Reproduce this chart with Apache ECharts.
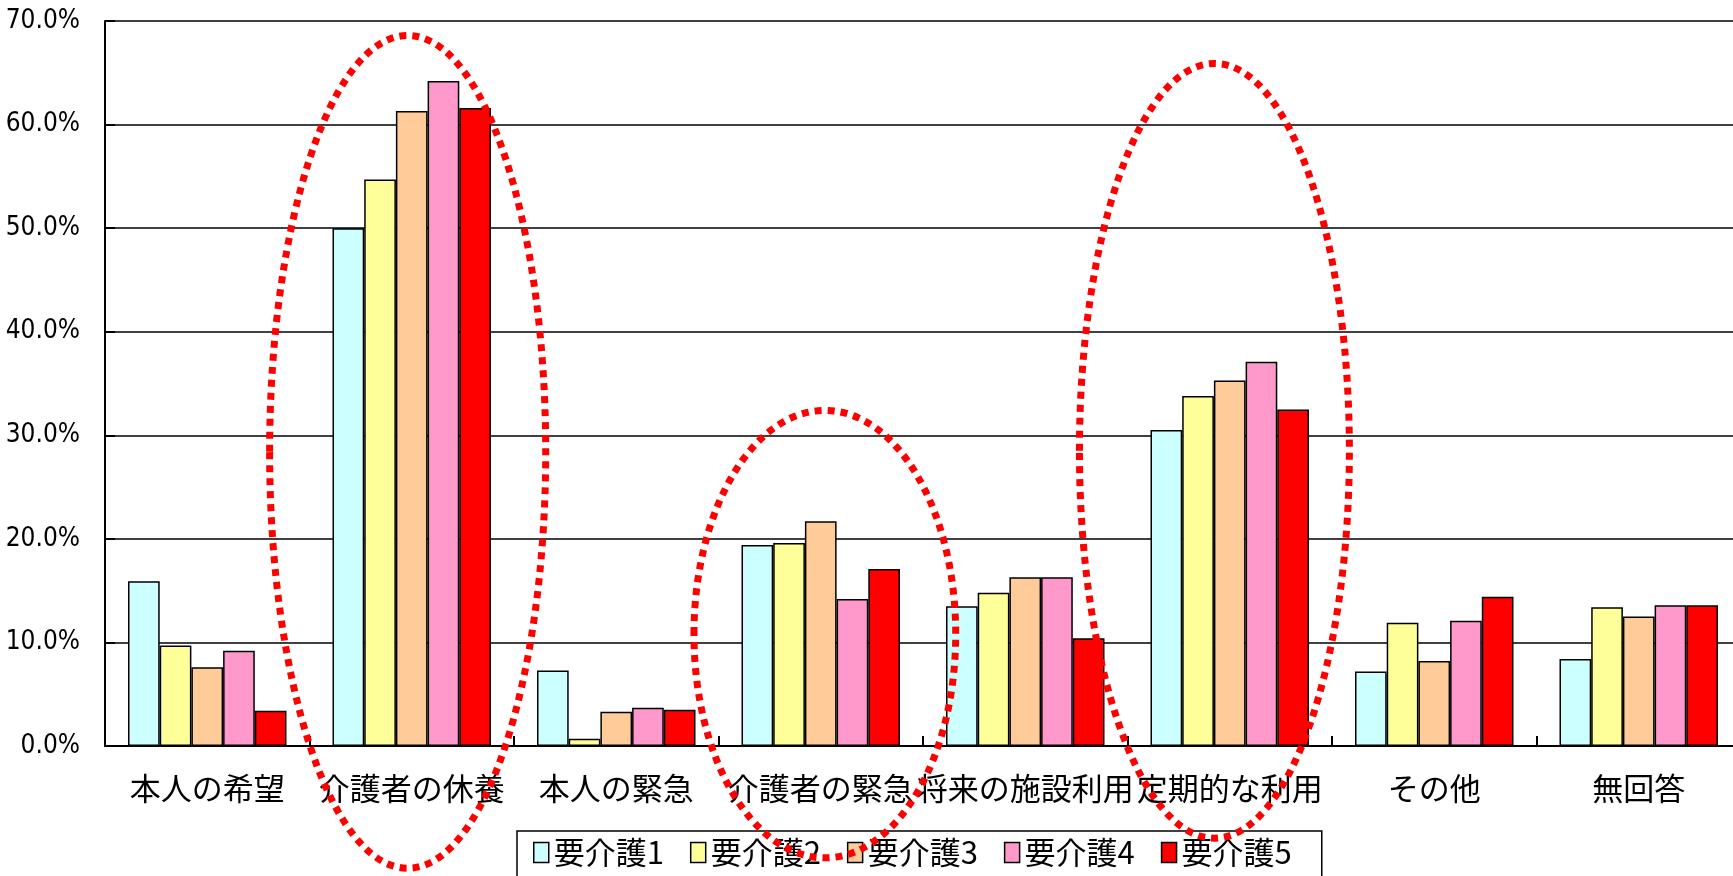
<!DOCTYPE html>
<html>
<head>
<meta charset="utf-8">
<script src="https://cdn.jsdelivr.net/npm/echarts@6/dist/echarts.min.js"></script>
<style>
  html, body { margin: 0; padding: 0; background: #fff; }
  #chart { width: 1733px; height: 876px; }
</style>
</head>
<body>
<div id="chart"></div>
<script>
// 利用目的（要介護度別の割合, %）
const categories = ['本人の希望', '介護者の休養', '本人の緊急', '介護者の緊急', '将来の施設利用', '定期的な利用', 'その他', '無回答'];
const seriesNames = ['要介護1', '要介護2', '要介護3', '要介護4', '要介護5'];
const care1 = [15.9, 50.0, 7.3, 19.4, 13.5, 30.5, 7.2, 8.4];
const care2 = [9.7, 54.7, 0.7, 19.6, 14.8, 33.8, 11.9, 13.4];
const care3 = [7.6, 61.3, 3.3, 21.7, 16.3, 35.3, 8.2, 12.5];
const care4 = [9.2, 64.2, 3.7, 14.2, 16.3, 37.1, 12.1, 13.6];
const care5 = [3.4, 61.6, 3.5, 17.1, 10.4, 32.5, 14.4, 13.6];
const yMin = 0, yMax = 70, yStep = 10;

const seriesValues = [care1, care2, care3, care4, care5];
const seriesColors = ['#CCFFFF', '#FFFF99', '#FFCC99', '#FF99CC', '#FF0000'];

// dotted rings marking categories of interest:
// category, centre offset (in categories), centre value (%), half-width (categories), half-height (%)
const rings = [
  { cat: '介護者の休養', dx: -0.02, cy: 28.4, rx: 0.675, ry: 40.2 },
  { cat: '介護者の緊急', dx: 0.02, cy: 10.8, rx: 0.64, ry: 21.6 },
  { cat: '定期的な利用', dx: -0.075, cy: 28.5, rx: 0.66, ry: 37.4 }
];

const jpFont = "'Noto Sans CJK JP', sans-serif";
const numFont = "'Liberation Sans Narrow', 'DejaVu Sans Condensed', 'Liberation Sans', sans-serif";

const chart = echarts.init(document.getElementById('chart'), null, { renderer: 'canvas' });

chart.setOption({
  animation: false,
  backgroundColor: '#fff',
  grid: {
    left: 105, top: 21, width: 1636, height: 725,
    containLabel: false, outerBoundsMode: 'none'
  },
  legend: {
    data: seriesNames,
    left: 517, top: 831,
    orient: 'horizontal',
    icon: 'rect',
    itemWidth: 15, itemHeight: 20,
    itemGap: 26,
    padding: [6, 30, 20, 16],
    borderColor: '#000', borderWidth: 1.5,
    backgroundColor: '#fff',
    itemStyle: { borderColor: '#000', borderWidth: 1.5 },
    textStyle: { fontFamily: jpFont, fontSize: 31, color: '#000' },
    selectedMode: false
  },
  xAxis: {
    type: 'category',
    data: categories,
    axisLine: { lineStyle: { color: '#000', width: 2 } },
    axisTick: { show: true, inside: true, length: 10, interval: 0, lineStyle: { color: '#000', width: 2 } },
    axisLabel: { interval: 0, margin: 27, fontFamily: jpFont, fontSize: 31, color: '#000' },
    splitLine: { show: false }
  },
  yAxis: {
    type: 'value',
    min: yMin, max: yMax, interval: yStep,
    axisLine: { show: true, lineStyle: { color: '#000', width: 2 } },
    axisTick: { show: true, inside: true, length: 10, lineStyle: { color: '#000', width: 2 } },
    axisLabel: {
      margin: 25, fontFamily: numFont, fontSize: 26, color: '#000',
      formatter: v => v.toFixed(1) + '%'
    },
    splitLine: { show: true, lineStyle: { color: '#000', width: 1.5 } }
  },
  series: seriesNames.map((name, i) => ({
    name: name,
    type: 'bar',
    data: seriesValues[i],
    barGap: '0%',
    barCategoryGap: '22.5%',
    itemStyle: { color: seriesColors[i], borderColor: '#000', borderWidth: 1.5 }
  }))
});

// place the dotted rings using the chart's own axes
function drawRings() {
  const p0 = chart.convertToPixel({ xAxisIndex: 0, yAxisIndex: 0 }, [0, 0]);
  const p1 = chart.convertToPixel({ xAxisIndex: 0, yAxisIndex: 0 }, [1, 10]);
  const catW = p1[0] - p0[0];
  const per1 = (p0[1] - p1[1]) / 10;
  const elements = rings.map((r, k) => {
    const c = chart.convertToPixel({ xAxisIndex: 0, yAxisIndex: 0 }, [categories.indexOf(r.cat), r.cy]);
    return {
      id: 'ring' + k,
      type: 'ellipse',
      z: 100,
      silent: true,
      shape: { cx: c[0] + r.dx * catW, cy: c[1], rx: r.rx * catW, ry: r.ry * per1 },
      style: { fill: 'none', stroke: '#FF0000', lineWidth: 7, lineDash: [7, 6] }
    };
  });
  chart.setOption({ graphic: { elements: elements } });
}
drawRings();
</script>
</body>
</html>
